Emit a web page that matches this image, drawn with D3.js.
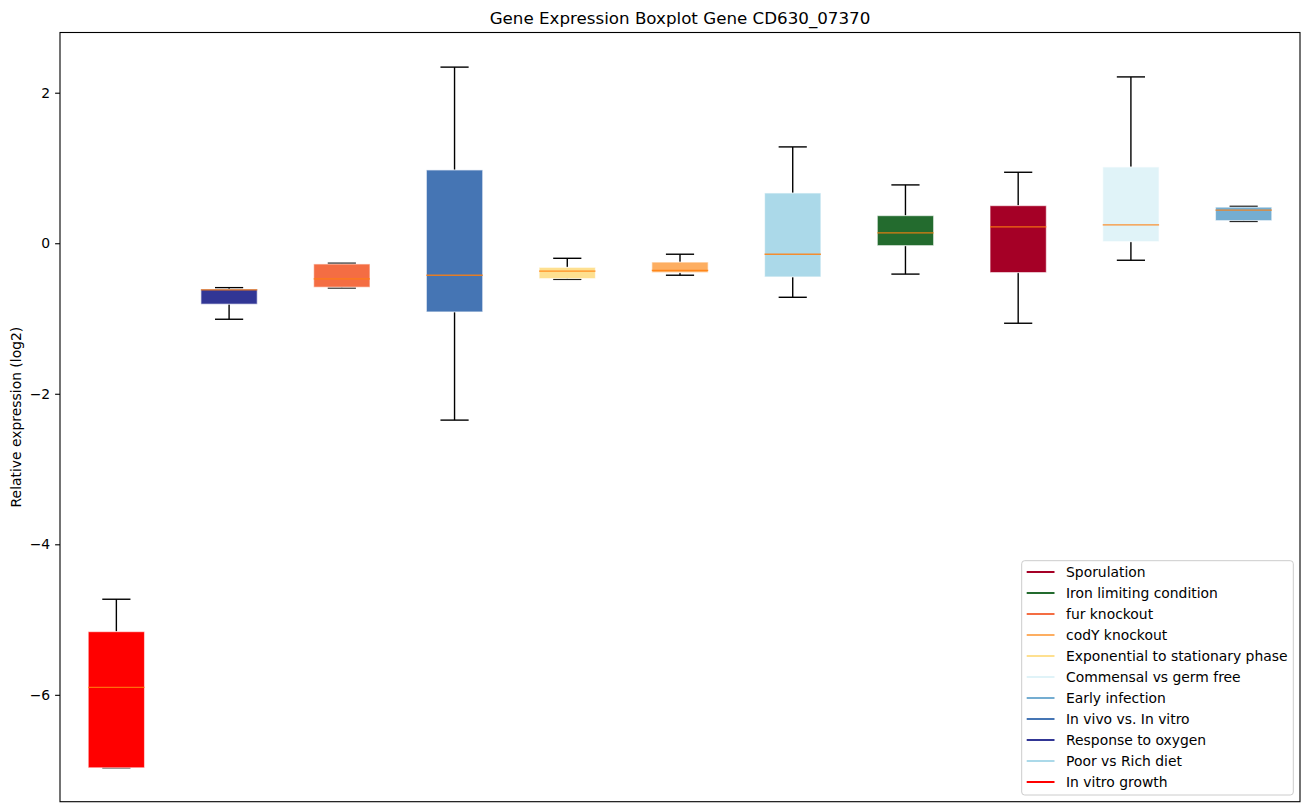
<!DOCTYPE html>
<html><head><meta charset="utf-8">
<script src="https://cdn.jsdelivr.net/npm/d3@7"></script>
<style>body{margin:0;background:#fff;} text{font-family:"DejaVu Sans",sans-serif;}</style>
</head><body><svg id="c" width="1309" height="812"></svg>
<script>
const categories = ["In vitro growth","Response to oxygen","fur knockout","In vivo vs. In vitro","Exponential to stationary phase","codY knockout","Poor vs Rich diet","Iron limiting condition","Sporulation","Commensal vs germ free","Early infection"];
const colors = ["#ff0000","#313695","#f46d43","#4575b4","#fee090","#fdae61","#abd9e9","#236b2e","#a50026","#e0f3f8","#74add1"];
const whiskerLow = [-6.97,-1.01,-0.594,-2.35,-0.48,-0.425,-0.718,-0.41,-1.063,-0.226,0.29];
const q1 = [-6.97,-0.81,-0.585,-0.913,-0.47,-0.39,-0.448,-0.032,-0.39,0.021,0.30];
const median = [-5.90,-0.62,-0.474,-0.425,-0.37,-0.36,-0.146,0.137,0.217,0.243,0.44];
const q3 = [-5.16,-0.61,-0.275,0.974,-0.32,-0.25,0.668,0.367,0.50,1.014,0.48];
const whiskerHigh = [-4.73,-0.59,-0.266,2.34,-0.20,-0.146,1.28,0.775,0.943,2.21,0.49];
const legendOrder = ["Sporulation","Iron limiting condition","fur knockout","codY knockout","Exponential to stationary phase","Commensal vs germ free","Early infection","In vivo vs. In vitro","Response to oxygen","Poor vs Rich diet","In vitro growth"];
const yTicks = [-6,-4,-2,0,2];

const svg = d3.select("#c");
const L=60,R=1300,T=32.5,B=801.7;
const x = d3.scaleLinear().domain([0.5,11.5]).range([L,R]);
const y = d3.scaleLinear().domain([-7.42,2.80]).range([B,T]);
const bw = x(1.25)-x(1);
const cw = x(1.125)-x(1);

const g = svg.append("g");
categories.forEach((c,i)=>{
  const p=i+1, cx=x(p);
  // whiskers
  g.append("line").attr("x1",cx).attr("x2",cx).attr("y1",y(q3[i])).attr("y2",y(whiskerHigh[i])).attr("stroke","#000").attr("stroke-width",1.4);
  g.append("line").attr("x1",cx).attr("x2",cx).attr("y1",y(q1[i])).attr("y2",y(whiskerLow[i])).attr("stroke","#000").attr("stroke-width",1.4);
  [whiskerLow[i],whiskerHigh[i]].forEach(v=>{
    g.append("line").attr("x1",cx-cw).attr("x2",cx+cw).attr("y1",y(v)).attr("y2",y(v)).attr("stroke","#000").attr("stroke-width",1.4);
  });
  g.append("rect").attr("x",cx-bw).attr("width",2*bw).attr("y",y(q3[i])).attr("height",Math.max(y(q1[i])-y(q3[i]),0.5))
    .attr("fill",colors[i]).attr("stroke","rgba(255,255,255,0.6)").attr("stroke-width",1.2);
  g.append("line").attr("x1",cx-bw).attr("x2",cx+bw).attr("y1",y(median[i])).attr("y2",y(median[i])).attr("stroke","#ff7f0e").attr("stroke-width",1.3).attr("stroke-opacity",0.85);
});

// axes frame
svg.append("rect").attr("x",L).attr("y",T).attr("width",R-L).attr("height",B-T).attr("fill","none").attr("stroke","#000").attr("stroke-width",1.1);
const ya = svg.append("g").attr("transform",`translate(${L},0)`).call(d3.axisLeft(y).tickValues(yTicks).tickSize(4.9).tickPadding(5).tickFormat(d=>d<0?"\u2212"+Math.abs(d):d));
ya.select(".domain").remove();
ya.selectAll("text").attr("font-size","13.9px").attr("font-family","DejaVu Sans").attr("fill","#000");
ya.selectAll("line").attr("stroke","#000").attr("stroke-width",1.1);

svg.append("text").attr("x",(L+R)/2).attr("y",24).attr("text-anchor","middle").attr("font-size","16.7px").text("Gene Expression Boxplot Gene CD630_07370");
svg.append("text").attr("transform",`translate(21,${(T+B)/2}) rotate(-90)`).attr("text-anchor","middle").attr("font-size","13.9px").text("Relative expression (log2)");

// legend
const lg = svg.append("g");
lg.append("rect").attr("x",1021.7).attr("y",560.7).attr("width",271.6).attr("height",234.3).attr("rx",3).attr("fill","rgba(255,255,255,0.8)").attr("stroke","#cccccc").attr("stroke-width",1);
legendOrder.forEach((name,j)=>{
  const i = categories.indexOf(name);
  const yy = 572 + j*21;
  lg.append("line").attr("x1",1026.7).attr("x2",1054.5).attr("y1",yy).attr("y2",yy).attr("stroke",colors[i]).attr("stroke-width",2);
  lg.append("text").attr("x",1066).attr("y",yy).attr("dy","0.36em").attr("font-size","13.9px").text(name);
});
</script></body></html>
